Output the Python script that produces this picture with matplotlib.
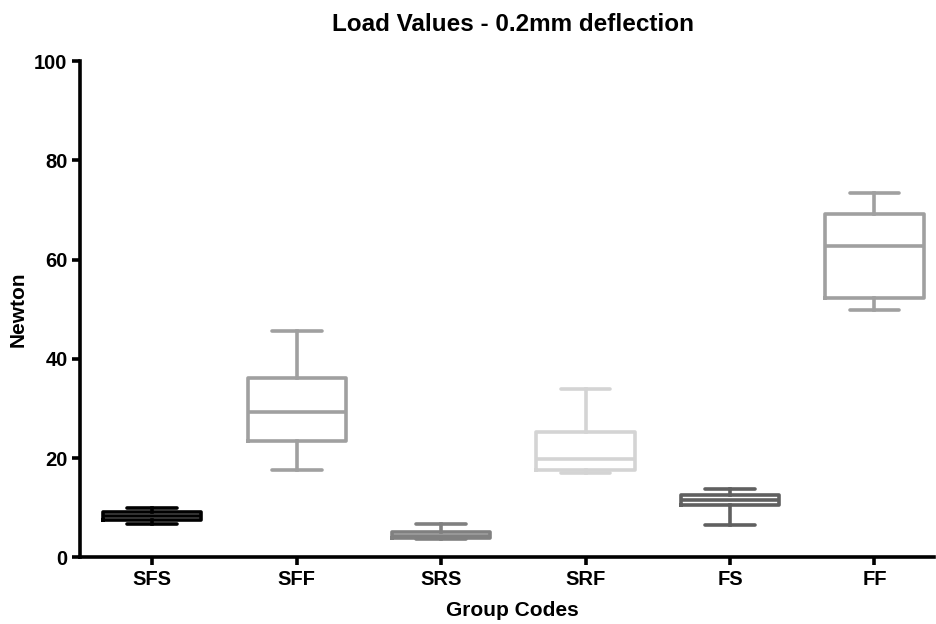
import matplotlib
matplotlib.use("Agg")
import matplotlib.pyplot as plt

categories = ["SFS", "SFF", "SRS", "SRF", "FS", "FF"]
whisker_low = [6.7, 17.6, 3.6, 16.9, 6.5, 49.8]
q1 = [7.6, 23.5, 3.9, 17.5, 10.6, 52.3]
median = [8.4, 29.2, 4.3, 19.9, 11.5, 62.7]
q3 = [9.2, 36.2, 5.0, 25.3, 12.6, 69.1]
whisker_high = [10.0, 45.6, 6.6, 33.9, 13.8, 73.5]
colors = ["#000000", "#a0a0a0", "#808080", "#d4d4d4", "#606060", "#a0a0a0"]
yticks = [0, 20, 40, 60, 80, 100]

plt.rcParams['font.family'] = ['Liberation Sans', 'DejaVu Sans']

fig = plt.figure(figsize=(9.36, 6.24), dpi=100)
ax = fig.add_axes([0.0855, 0.107, 0.912, 0.795])

lw = 2.6
for i, cat in enumerate(categories):
    stats = [{
        "whislo": whisker_low[i], "q1": q1[i], "med": median[i],
        "q3": q3[i], "whishi": whisker_high[i], "fliers": [], "label": cat,
    }]
    c = colors[i]
    ax.bxp(stats, positions=[i + 1], widths=0.68, showfliers=False,
           boxprops=dict(color=c, linewidth=lw),
           medianprops=dict(color=c, linewidth=lw),
           whiskerprops=dict(color=c, linewidth=lw),
           capprops=dict(color=c, linewidth=lw, solid_capstyle='round'),
           capwidths=0.345)

ax.set_xlim(0.5, 6.41)
ax.set_ylim(0, 100)
ax.set_xticks(range(1, len(categories) + 1))
ax.set_xticklabels(categories, fontsize=14.5, fontweight='bold')
ax.set_yticks(yticks)
ax.set_yticklabels([str(v) for v in yticks], fontsize=14.5, fontweight='bold')

for s in ['top', 'right']:
    ax.spines[s].set_visible(False)
for s in ['left', 'bottom']:
    ax.spines[s].set_linewidth(2.6)
ax.tick_params(axis='both', length=6, width=2.6, pad=3)

ax.set_xlabel("Group Codes", fontsize=15, fontweight='bold', labelpad=9)
ax.xaxis.label.set_x(0.507)
ax.set_ylabel("Newton", fontsize=15, fontweight='bold', labelpad=5)
t = ax.set_title("Load Values - 0.2mm deflection", fontsize=17.5, fontweight='bold', pad=22)
t.set_x(0.507)

fig.savefig("out.png", dpi=100)
